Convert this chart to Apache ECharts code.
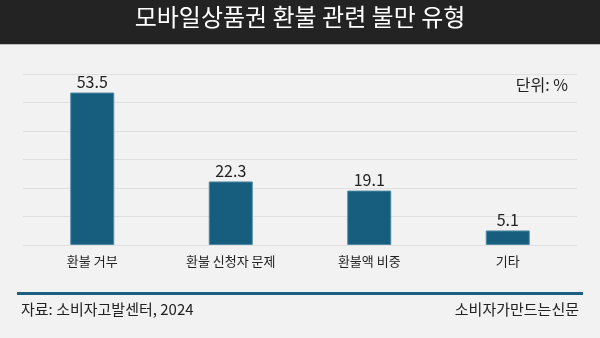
<!DOCTYPE html>
<html>
<head>
<meta charset="utf-8">
<script src="https://cdn.jsdelivr.net/npm/echarts@6/dist/echarts.min.js"></script>
<style>
  html, body { margin: 0; padding: 0; background: #f2f2f2; }
  #chart { width: 600px; height: 338px; }
</style>
</head>
<body>
<div id="chart"></div>
<script>
// Complaint types about mobile gift card refunds (%)
const categories = ['환불 거부', '환불 신청자 문제', '환불액 비중', '기타'];
const values = [53.5, 22.3, 19.1, 5.1];
const yTicks = [0, 10, 20, 30, 40, 50, 60];

const FONT = '"Noto Sans CJK KR", "Noto Sans", sans-serif';
const chart = echarts.init(document.getElementById('chart'), null, { renderer: 'canvas' });

chart.setOption({
  backgroundColor: '#f2f2f2',
  animation: false,
  textStyle: { fontFamily: FONT },
  grid: { left: 23, right: 23, top: 74, bottom: 93, containLabel: false },
  xAxis: {
    type: 'category',
    data: categories,
    axisLine: { show: false },
    axisTick: { show: false },
    axisLabel: { color: '#222', fontSize: 13, margin: 10, fontFamily: FONT }
  },
  yAxis: {
    type: 'value',
    min: yTicks[0],
    max: yTicks[yTicks.length - 1],
    interval: yTicks[1] - yTicks[0],
    axisLabel: { show: false },
    axisLine: { show: false },
    axisTick: { show: false },
    splitLine: { lineStyle: { color: '#e0e0e0', width: 1 } }
  },
  series: [{
    type: 'bar',
    data: values,
    barWidth: 44,
    itemStyle: { color: '#165d7e', borderColor: '#4f8aa4', borderWidth: 1 },
    label: {
      show: true,
      position: 'top',
      distance: 3,
      color: '#222',
      fontSize: 16,
      fontFamily: FONT,
      formatter: p => p.value.toFixed(1)
    }
  }],
  graphic: [
    { type: 'rect', left: 0, top: 0, shape: { width: 600, height: 44 }, style: { fill: '#232323' }, z: 10 },
    { type: 'rect', left: 0, top: 44, shape: { width: 600, height: 1 }, style: { fill: '#bdbdbd' }, z: 10 },
    {
      type: 'text', left: 'center', top: 5, z: 11,
      style: { text: '모바일상품권 환불 관련 불만 유형', fill: '#ffffff', font: '24px ' + FONT }
    },
    {
      type: 'text', right: 32, top: 77, z: 11,
      style: { text: '단위: %', fill: '#222', font: '16px ' + FONT }
    },
    { type: 'rect', left: 17, top: 292, shape: { width: 566, height: 3 }, style: { fill: '#1c5f80' }, z: 10 },
    {
      type: 'text', left: 21, top: 302, z: 11,
      style: { text: '자료: 소비자고발센터, 2024', fill: '#222', font: '15px ' + FONT }
    },
    {
      type: 'text', right: 21, top: 302, z: 11,
      style: { text: '소비자가만드는신문', fill: '#222', font: '15px ' + FONT }
    }
  ]
});
</script>
</body>
</html>
